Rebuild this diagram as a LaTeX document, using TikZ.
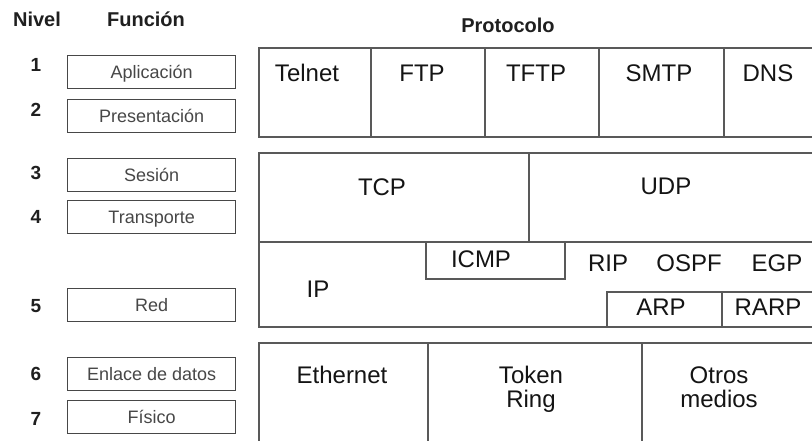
\documentclass[tikz,border=0pt]{standalone}
\usepackage{fontspec}
\setmainfont{Liberation Sans}
\begin{document}
\begin{tikzpicture}[x=1pt,y=-1pt,
  frame/.style={draw=black!65, line width=1.6pt},
  fbox/.style={draw=black!72, line width=1.3pt, minimum width=168pt, minimum height=33pt,
    inner sep=0pt, anchor=north west, text height=13.5pt, text depth=0pt,
    font=\fontsize{18}{20}\selectfont, text=black!72},
  num/.style={font=\bfseries\fontsize{19}{22}\selectfont, anchor=base, text=black!88},
  head/.style={font=\bfseries\fontsize{20}{24}\selectfont, anchor=base, text=black!88},
  proto/.style={font=\fontsize{24}{23}\selectfont, anchor=base, text=black!92, inner sep=0pt}]
\useasboundingbox (0,0) rectangle (812,441);
\fill[white] (0,0) rectangle (812,441);
\begin{scope}
\clip (0,0) rectangle (812,441);
% headings
\node[head] (hnivel) at (37,27) {Nivel};
\node[head] (hfuncion) at (146,27) {Función};
\node[head] (hproto) at (508,33) {Protocolo};
% level numbers
\node[num] (n1) at (36,72) {1};
\node[num] (n2) at (36,117) {2};
\node[num] (n3) at (36,180) {3};
\node[num] (n4) at (36,223) {4};
\node[num] (n5) at (36,312) {5};
\node[num] (n6) at (36,380) {6};
\node[num] (n7) at (36,425) {7};
% function boxes
\node[fbox] (f1) at (67,55) {Aplicación};
\node[fbox] (f2) at (67,99) {Presentación};
\node[fbox] (f3) at (67,158) {Sesión};
\node[fbox] (f4) at (67,200) {Transporte};
\node[fbox] (f5) at (67,288) {Red};
\node[fbox] (f6) at (67,357) {Enlace de datos};
\node[fbox] (f7) at (67,400) {Físico};
% application layer table
\draw[frame] (850,48) -- (259,48) -- (259,137) -- (850,137);
\foreach \xx in {371,485,599,724} \draw[frame] (\xx,48) -- (\xx,137);
% transport / network table
\draw[frame] (850,153) -- (259,153) -- (259,327) -- (850,327);
\draw[frame] (529,153) -- (529,242);
\draw[frame] (259,242) -- (850,242);
\draw[frame] (426,242) -- (426,279) -- (565,279) -- (565,242);
\draw[frame] (607,327) -- (607,292) -- (850,292);
\draw[frame] (722,292) -- (722,327);
% link layer table
\draw[frame] (850,343) -- (259,343) -- (259,480);
\draw[frame] (428,343) -- (428,480);
\draw[frame] (642,343) -- (642,480);
% protocol labels
\node[proto] (telnet) at (307,82) {Telnet};
\node[proto] (ftp) at (422,82) {FTP};
\node[proto] (tftp) at (536,82) {TFTP};
\node[proto] (smtp) at (659,82) {SMTP};
\node[proto] (dns) at (768,82) {DNS};
\node[proto] (tcp) at (382,196) {TCP};
\node[proto] (udp) at (666,195) {UDP};
\node[proto] (icmp) at (481,267) {ICMP};
\node[proto] (rip) at (608,272) {RIP};
\node[proto] (ospf) at (689,272) {OSPF};
\node[proto] (egp) at (777,272) {EGP};
\node[proto] (ip) at (318,298) {IP};
\node[proto] (arp) at (661,315) {ARP};
\node[proto] (rarp) at (768,315) {RARP};
\node[proto] (eth) at (342,383) {Ethernet};
\node[proto] (token) at (531,383)
  {\setlength{\tabcolsep}{0pt}\begin{tabular}[t]{c}Token\\Ring\end{tabular}};
\node[proto] (otros) at (719,383)
  {\setlength{\tabcolsep}{0pt}\begin{tabular}[t]{c}Otros\\medios\end{tabular}};
\end{scope}
\end{tikzpicture}
\end{document}
